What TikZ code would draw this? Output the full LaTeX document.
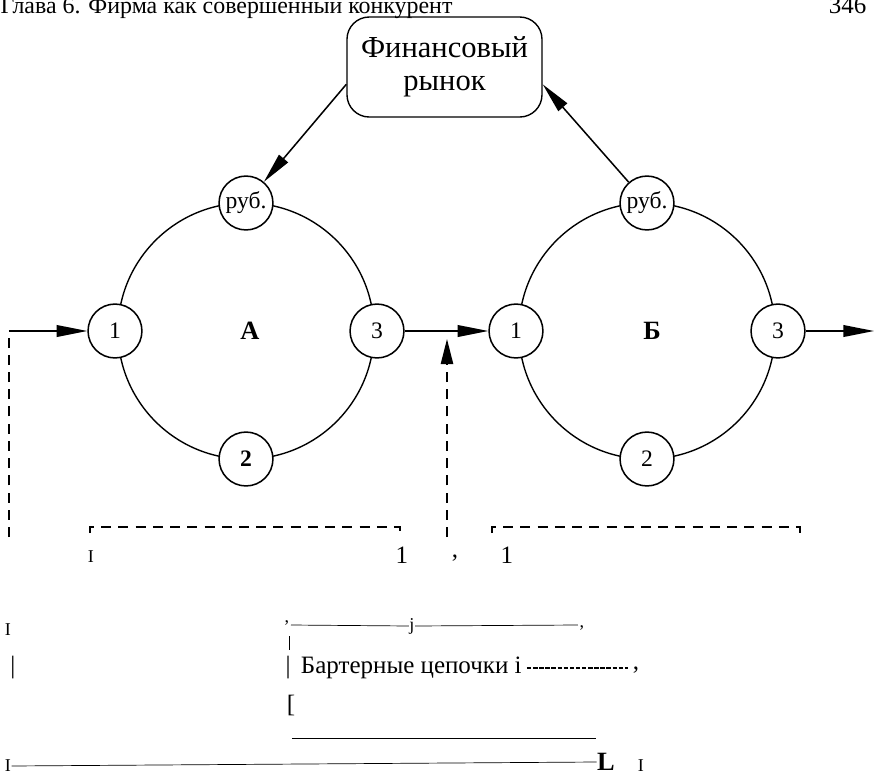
\documentclass[tikz,border=0pt]{standalone}
\usepackage{fontspec}
\setmainfont{Liberation Serif}
\usetikzlibrary{arrows.meta}
\begin{document}
\begin{tikzpicture}[x=0.36pt,y=-0.36pt,
  ring/.style={line width=0.5pt},
  sm/.style={circle,draw,line width=0.55pt,fill=white,minimum size=19.4pt,inner sep=0pt,font=\fontsize{8.5}{9}\selectfont},
  arr/.style={line width=0.55pt,-{Triangle[length=11pt,width=4.2pt]}},
  dsh/.style={line width=0.6pt,dash pattern=on 3.6pt off 2.6pt},
  thinl/.style={line width=0.25pt},
  junk/.style={inner sep=0pt,font=\fontsize{9}{10}\selectfont},
  tiny/.style={inner sep=0pt,font=\fontsize{6.5}{7}\selectfont}
]
\clip (0,0) rectangle (874,776);
% header
\node[anchor=base west,inner sep=0pt,font=\fontsize{8.6}{10}\selectfont] (hdr) at (0,13) {Глава 6. Фирма как совершенный конкурент};
\node[anchor=base east,inner sep=0pt,font=\fontsize{9}{10}\selectfont] (pg) at (867,13) {346};
% financial market
\node[draw,rounded corners=8pt,line width=0.5pt,minimum width=70.2pt,minimum height=36pt,align=center,font=\fontsize{11}{12}\selectfont] (box) at (444.5,67) {Финансовый\\рынок};
% rings
\draw[ring] (246,331) circle[radius=46.1pt];
\draw[ring] (647,331) circle[radius=46.1pt];
\node[sm] (rA) at (246,203) {руб.};
\node[sm] (a1) at (115,331) {1};
\node[sm] (a3) at (377,331) {3};
\node[sm] (a2) at (246,459) {\textbf{2}};
\node[sm] (rB) at (647,203) {руб.};
\node[sm] (b1) at (516,331) {1};
\node[sm] (b3) at (778,331) {3};
\node[sm] (b2) at (647,459) {2};
\node[font=\fontsize{9.5}{10}\selectfont\bfseries] (lA) at (250,331) {A};
\node[font=\fontsize{9.5}{10}\selectfont\bfseries] (lB) at (652,331) {Б};
% connectors
\coordinate (inL) at (9,331);
\coordinate (inLb) at (9,537);
\coordinate (vt) at (447,339);
\coordinate (vb) at (447,537);
\coordinate (outR) at (874,331);
\draw[arr] (inL) -- (a1);
\draw[dsh] (inLb) -- (inL);
\draw[arr] (a3) -- (b1);
\draw[dsh,-{Triangle[length=9pt,width=4.4pt]}] (vb) -- (vt);
\draw[arr] (b3) -- (outR);
\draw[arr] (box.190) -- (rA);
\draw[arr] (rB) -- (box.350);
% dashed brackets
\coordinate (bA1) at (90,533); \coordinate (bA2) at (90,527);
\coordinate (bA3) at (400,527); \coordinate (bA4) at (400,533);
\coordinate (bB1) at (492,533); \coordinate (bB2) at (492,527);
\coordinate (bB3) at (800,527); \coordinate (bB4) at (800,533);
\draw[dsh] (bA1) -- (bA2) -- (bA3) -- (bA4);
\draw[dsh] (bB1) -- (bB2) -- (bB3) -- (bB4);
\node[tiny] (i1) at (91,557) {I};
\node[junk] (n1) at (402,555) {1};
\node[junk] (cm) at (455,558) {,};
\node[junk] (n2) at (507,555) {1};
% lower fragments
\node[tiny] (i2) at (8,630) {I};
\node[junk] (bar1) at (13,668) {|};
\node[tiny] (c1) at (287,623) {,};
\coordinate (t1) at (291,625);
\node[tiny] (jj) at (412,626) {j};
\coordinate (t2) at (578,625);
\node[tiny] (c2) at (582,628) {,};
\draw[thinl] (t1) -- (jj.west);
\draw[thinl] (jj.east) -- (t2);
\coordinate (v1) at (289,636); \coordinate (v2) at (289,650);
\draw[thinl] (v1) -- (v2);
\node[junk,anchor=west] (bart) at (285,668) {|\, Бартерные цепочки i};
\coordinate (d1) at (527,668); \coordinate (d2) at (628,668);
\draw[line width=0.5pt,dash pattern=on 1.6pt off 0.6pt] (d1) -- (d2);
\node[junk] (c3) at (636,670) {,};
\node[junk] (brk) at (291,705) {[};
\coordinate (h1) at (292,738); \coordinate (h2) at (596,738);
\draw[thinl] (h1) -- (h2);
\node[tiny] (i3) at (8,766) {I};
\node[font=\fontsize{9.5}{10}\selectfont\bfseries,inner sep=0pt] (LL) at (606,762) {L};
\node[tiny] (i4) at (641,766) {I};
\draw[thinl] (i3.east) -- (LL.west);
\end{tikzpicture}
\end{document}
